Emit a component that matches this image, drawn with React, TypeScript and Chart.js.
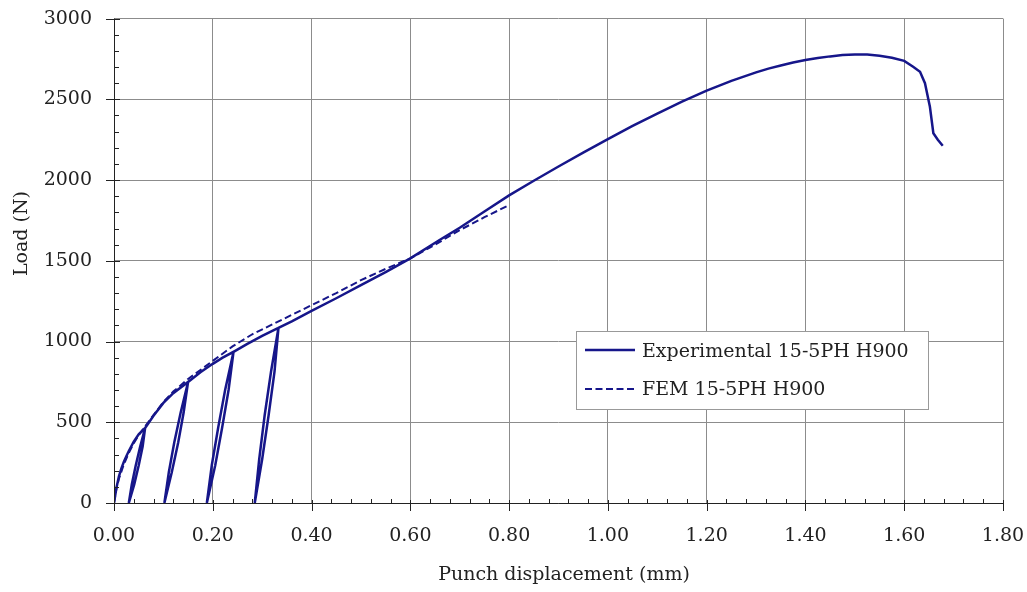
import React, { useEffect, useRef } from "react";
import { Chart, registerables } from "chart.js";

Chart.register(...registerables);

// Experimental curve (loading with four unload/reload loops)
const expX = [
  0, 0.005, 0.01, 0.015, 0.02, 0.025, 0.03, 0.04, 0.05, 0.063,
  0.058, 0.05, 0.041, 0.03, 0.036, 0.044, 0.053, 0.063,
  0.08, 0.1, 0.12, 0.15,
  0.141, 0.13, 0.117, 0.102, 0.111, 0.122, 0.135, 0.15,
  0.175, 0.2, 0.22, 0.242,
  0.232, 0.219, 0.205, 0.188, 0.198, 0.211, 0.225, 0.242,
  0.27, 0.3, 0.333,
  0.325, 0.313, 0.3, 0.285, 0.294, 0.305, 0.318, 0.333,
  0.36, 0.4, 0.45, 0.5, 0.55, 0.6, 0.66, 0.7, 0.75, 0.8, 0.85, 0.9, 0.95,
  1.0, 1.05, 1.1, 1.15, 1.2, 1.25, 1.3, 1.325, 1.35, 1.375, 1.4, 1.425, 1.45,
  1.475, 1.5, 1.525, 1.55, 1.575, 1.6, 1.618, 1.632, 1.642, 1.652, 1.659,
  1.668, 1.678,
];
const expY = [
  0, 95, 165, 215, 255, 290, 322, 380, 425, 465,
  350, 232, 115, 0, 115, 232, 350, 465,
  540, 620, 680, 750,
  560, 375, 190, 0, 190, 375, 560, 750,
  810, 862, 900, 936,
  700, 468, 234, 0, 234, 468, 700, 936,
  985, 1035, 1085,
  814, 542, 271, 0, 271, 542, 814, 1085,
  1125, 1190, 1268, 1349, 1430, 1515, 1630, 1705, 1805, 1905, 1996, 2084, 2170,
  2254, 2335, 2412, 2486, 2554, 2614, 2667, 2690, 2710, 2728, 2744, 2756, 2766,
  2774, 2778, 2777, 2770, 2757, 2738, 2702, 2671, 2600, 2454, 2290,
  2250, 2212,
];

// FEM curve
const femX = [
  0, 0.005, 0.01, 0.02, 0.03, 0.04, 0.05, 0.06, 0.08, 0.1, 0.12, 0.15, 0.2,
  0.24, 0.28, 0.33, 0.4, 0.45, 0.5, 0.55, 0.6, 0.65, 0.7, 0.75, 0.8,
];
const femY = [
  0, 90, 150, 240, 310, 370, 420, 462, 545, 625, 690, 768, 880,
  970, 1045, 1120, 1225, 1300, 1380, 1450, 1515, 1600, 1690, 1770, 1845,
];

const seriesNames = ["Experimental 15-5PH H900", "FEM 15-5PH H900"];
const xTitle = "Punch displacement (mm)";
const yTitle = "Load (N)";

const X_MIN = 0, X_MAX = 1.8, X_STEP = 0.2, X_MINOR = 0.04;
const Y_MIN = 0, Y_MAX = 3000, Y_STEP = 500, Y_MINOR = 100;

const LINE = "#16168a";
const FONT = "'DejaVu Serif', serif";
const TEXT = "#222222";

const decorPlugin = {
  id: "decor",
  afterDraw(chart: any) {
    const { ctx, chartArea } = chart;
    const xs = chart.scales.x;
    const ys = chart.scales.y;
    ctx.save();
    // axis lines
    ctx.strokeStyle = "#222";
    ctx.lineWidth = 1;
    ctx.beginPath();
    ctx.moveTo(chartArea.left + 0.5, chartArea.top);
    ctx.lineTo(chartArea.left + 0.5, chartArea.bottom + 0.5);
    ctx.lineTo(chartArea.right, chartArea.bottom + 0.5);
    ctx.stroke();
    // y ticks
    const nY = Math.round((Y_MAX - Y_MIN) / Y_MINOR);
    for (let i = 0; i <= nY; i++) {
      const v = Y_MIN + i * Y_MINOR;
      const py = Math.round(ys.getPixelForValue(v)) + 0.5;
      const major = i % Math.round(Y_STEP / Y_MINOR) === 0;
      ctx.beginPath();
      ctx.moveTo(chartArea.left - (major ? 8 : 0), py);
      ctx.lineTo(chartArea.left + (major ? 6 : 5), py);
      ctx.stroke();
    }
    // x ticks
    const nX = Math.round((X_MAX - X_MIN) / X_MINOR);
    for (let i = 0; i <= nX; i++) {
      const v = X_MIN + i * X_MINOR;
      const px = Math.round(xs.getPixelForValue(v)) + 0.5;
      const major = i % Math.round(X_STEP / X_MINOR) === 0;
      ctx.beginPath();
      ctx.moveTo(px, chartArea.bottom - (major ? 3 : 4));
      ctx.lineTo(px, chartArea.bottom + (major ? 8 : 0));
      ctx.stroke();
    }
    // axis titles
    ctx.fillStyle = TEXT;
    ctx.font = `19px ${FONT}`;
    ctx.textAlign = "center";
    ctx.textBaseline = "alphabetic";
    ctx.fillText(xTitle, 564, 580);
    ctx.save();
    ctx.translate(26.5, 233.5);
    ctx.rotate(-Math.PI / 2);
    ctx.fillText(yTitle, 0, 0);
    ctx.restore();
    // legend
    const bx = 576, by = 331, bw = 352, bh = 78;
    ctx.fillStyle = "#ffffff";
    ctx.fillRect(bx, by, bw, bh);
    ctx.strokeStyle = "#999999";
    ctx.lineWidth = 1;
    ctx.strokeRect(bx + 0.5, by + 0.5, bw, bh);
    ctx.strokeStyle = LINE;
    ctx.lineWidth = 2.5;
    ctx.setLineDash([]);
    ctx.beginPath();
    ctx.moveTo(585, 350);
    ctx.lineTo(635, 350);
    ctx.stroke();
    ctx.lineWidth = 2;
    ctx.setLineDash([7, 3.5]);
    ctx.beginPath();
    ctx.moveTo(585, 389);
    ctx.lineTo(635, 389);
    ctx.stroke();
    ctx.setLineDash([]);
    ctx.fillStyle = TEXT;
    ctx.textAlign = "left";
    ctx.fillText(seriesNames[0], 642, 357);
    ctx.fillText(seriesNames[1], 642, 395);
    ctx.restore();
  },
};

export default function App() {
  const ref = useRef<HTMLCanvasElement | null>(null);
  useEffect(() => {
    document.body.style.margin = "0";
    const canvas = ref.current;
    if (!canvas) return;
    const chart = new Chart(canvas, {
      type: "line",
      data: {
        datasets: [
          {
            label: seriesNames[0],
            data: expX.map((x, i) => ({ x, y: expY[i] })),
            borderColor: LINE,
            borderWidth: 2.5,
            pointRadius: 0,
            fill: false,
            tension: 0,
          },
          {
            label: seriesNames[1],
            data: femX.map((x, i) => ({ x, y: femY[i] })),
            borderColor: LINE,
            borderWidth: 2,
            borderDash: [7, 3.5],
            pointRadius: 0,
            fill: false,
            tension: 0,
          },
        ],
      },
      options: {
        responsive: false,
        animation: false,
        devicePixelRatio: 1,
        layout: { padding: { left: 0, right: 24, top: 18.6, bottom: 0 } },
        plugins: {
          legend: { display: false },
          tooltip: { enabled: false },
        },
        scales: {
          x: {
            type: "linear",
            min: X_MIN,
            max: X_MAX,
            afterFit: (s: any) => {
              s.height = 89;
              s.paddingLeft = 0;
              s.paddingRight = 0;
            },
            ticks: {
              stepSize: X_STEP,
              autoSkip: false,
              maxRotation: 0,
              padding: 22,
              color: TEXT,
              font: { family: FONT, size: 19 },
              callback: (v: any) => Number(v).toFixed(2),
            },
            grid: { color: "#8c8c8c", lineWidth: 1, drawTicks: false },
            border: { display: false },
          },
          y: {
            type: "linear",
            min: Y_MIN,
            max: Y_MAX,
            afterFit: (s: any) => {
              s.width = 114;
              s.paddingTop = 0;
              s.paddingBottom = 0;
            },
            ticks: {
              stepSize: Y_STEP,
              padding: 22,
              color: TEXT,
              font: { family: FONT, size: 19 },
              callback: (v: any) => String(v),
            },
            grid: { color: "#8c8c8c", lineWidth: 1, drawTicks: false },
            border: { display: false },
          },
        },
      },
      plugins: [decorPlugin],
    });
    return () => chart.destroy();
  }, []);
  return (
    <div style={{ position: "absolute", left: 0, top: 0, width: 1027, height: 592, background: "#fff" }}>
      <canvas ref={ref} width={1027} height={592} />
    </div>
  );
}
